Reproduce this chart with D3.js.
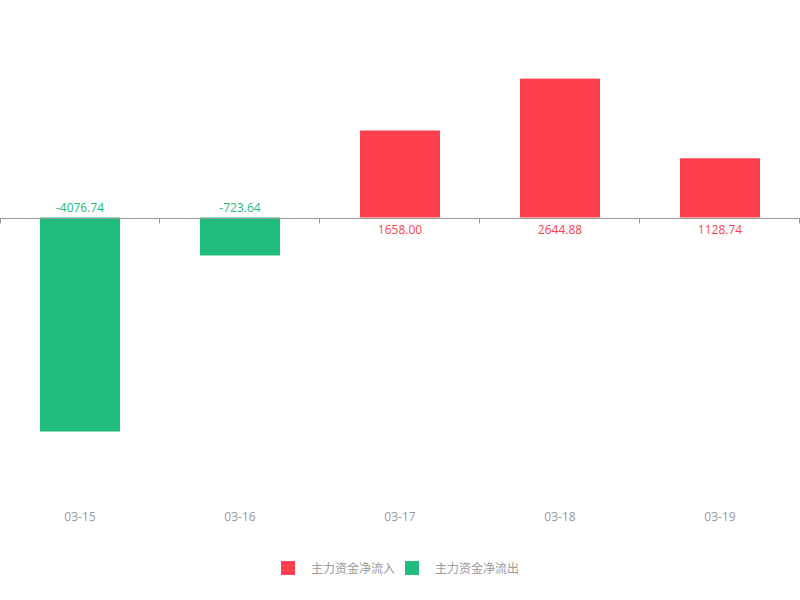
<!DOCTYPE html>
<html>
<head>
<meta charset="utf-8">
<script src="https://cdn.jsdelivr.net/npm/d3@7"></script>
<style>
  body { margin: 0; background: #fff; }
  text { font-family: "Open Sans", "Noto Sans CJK SC", sans-serif; }
</style>
</head>
<body>
<div id="chart"></div>
<script>
// data
const dates = ["03-15", "03-16", "03-17", "03-18", "03-19"];
const netFlow = [-4076.74, -723.64, 1658.00, 2644.88, 1128.74];
const legendNames = ["主力资金净流入", "主力资金净流出"];

const width = 800, height = 600;
const RED = "#fd3f4e", GREEN = "#21bd7f";

const svg = d3.select("#chart").append("svg")
    .attr("width", width)
    .attr("height", height);

const x = d3.scaleBand()
    .domain(dates)
    .range([0, 800]);

const y = d3.scaleLinear()
    .domain([-5000, 3000])
    .range([480, 60]);

const y0 = Math.round(y(0)) + 0.5;

// bars
const barW = x.bandwidth() * 0.5;
svg.selectAll("rect.bar")
    .data(netFlow)
    .join("rect")
    .attr("class", "bar")
    .attr("x", (d, i) => x(dates[i]) + (x.bandwidth() - barW) / 2)
    .attr("y", d => y(Math.max(0, d)))
    .attr("width", barW)
    .attr("height", d => Math.abs(y(d) - y(0)))
    .attr("fill", d => d >= 0 ? RED : GREEN);

// zero axis line with ticks
const axis = svg.append("g").attr("transform", `translate(0,${y0})`);
axis.append("line")
    .attr("x1", 0).attr("x2", 800)
    .attr("stroke", "#999").attr("stroke-width", 1);
axis.selectAll("line.tick")
    .data(d3.range(dates.length + 1))
    .join("line")
    .attr("class", "tick")
    .attr("x1", i => i === 0 ? 0.5 : Math.round(i * x.step()) - 0.5)
    .attr("x2", i => i === 0 ? 0.5 : Math.round(i * x.step()) - 0.5)
    .attr("y1", 0).attr("y2", 5)
    .attr("stroke", "#999");

// value labels
svg.selectAll("text.val")
    .data(netFlow)
    .join("text")
    .attr("class", "val")
    .attr("x", (d, i) => x(dates[i]) + x.bandwidth() / 2)
    .attr("y", d => d >= 0 ? y(0) + 16 : y(0) - 6)
    .attr("text-anchor", "middle")
    .attr("font-size", 12)
    .attr("fill", d => d >= 0 ? RED : GREEN)
    .text(d => d.toFixed(2));

// category labels
svg.selectAll("text.cat")
    .data(dates)
    .join("text")
    .attr("class", "cat")
    .attr("x", d => x(d) + x.bandwidth() / 2)
    .attr("y", 521)
    .attr("text-anchor", "middle")
    .attr("font-size", 12)
    .attr("fill", "#999")
    .text(d => d);

// legend
const legend = svg.append("g");
const legendX = [281, 405];
legendNames.forEach((name, i) => {
    const g = legend.append("g").attr("transform", `translate(${legendX[i]},561)`);
    g.append("rect")
        .attr("width", 14).attr("height", 14)
        .attr("fill", i === 0 ? RED : GREEN);
    g.append("text")
        .attr("x", 30).attr("y", 11.5)
        .attr("font-size", 12)
        .attr("fill", "#999")
        .text(name);
});
</script>
</body>
</html>
